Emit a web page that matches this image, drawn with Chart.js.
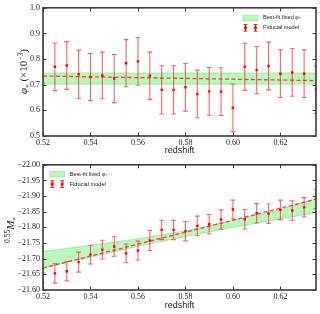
<!DOCTYPE html>
<html>
<head>
<meta charset="utf-8">
<script src="https://cdn.jsdelivr.net/npm/chart.js@4.4.1/dist/chart.umd.min.js"></script>
<style>
  html, body { margin: 0; padding: 0; background: #fff; }
  body { width: 320px; height: 314px; position: relative; overflow: hidden; }
  canvas { position: absolute; left: 0; }
  #phiChart { top: 0; }
  #magChart { top: 157px; }
</style>
</head>
<body>
<canvas id="phiChart" width="320" height="157"></canvas>
<canvas id="magChart" width="320" height="157"></canvas>
<script>
// Data
const redshift = [0.520, 0.525, 0.530, 0.535, 0.540, 0.545, 0.550, 0.555, 0.560, 0.565, 0.570, 0.575,
                  0.580, 0.585, 0.590, 0.595, 0.600, 0.605, 0.610, 0.615, 0.620, 0.625, 0.630, 0.635];

// top panel: phi* (x 10^-3)
const phiStar = [0.800, 0.770, 0.775, 0.741, 0.730, 0.736, 0.724, 0.784, 0.791, 0.735, 0.680, 0.680,
                 0.690, 0.664, 0.674, 0.673, 0.610, 0.770, 0.757, 0.773, 0.743, 0.748, 0.743, 0.681];
const phiStarErr = [0.093, 0.093, 0.093, 0.094, 0.092, 0.091, 0.094, 0.092, 0.093, 0.092, 0.094, 0.094,
                    0.093, 0.093, 0.093, 0.093, 0.093, 0.092, 0.092, 0.093, 0.093, 0.093, 0.093, 0.093];
const phiBandX = [0.520, 0.635];
const phiBandHigh = [0.746, 0.746];
const phiBandLow = [0.702, 0.702];
const phiFidX = [0.520, 0.635];
const phiFid = [0.734, 0.716];

// bottom panel: 0.55 M*
const magStar = [-21.624, -21.653, -21.660, -21.689, -21.713, -21.729, -21.739, -21.717, -21.726, -21.758, -21.792, -21.792,
                 -21.788, -21.805, -21.810, -21.825, -21.857, -21.826, -21.845, -21.844, -21.856, -21.854, -21.864, -21.891];
const magStarErr = [0.031, 0.031, 0.031, 0.032, 0.030, 0.030, 0.031, 0.030, 0.030, 0.032, 0.031, 0.031,
                    0.031, 0.031, 0.031, 0.031, 0.030, 0.031, 0.031, 0.031, 0.031, 0.031, 0.031, 0.031];
const magBandX = [0.520, 0.540, 0.560, 0.580, 0.600, 0.620, 0.635];
const magBandBright = [-21.723, -21.743, -21.764, -21.789, -21.822, -21.857, -21.893];
const magBandFaint = [-21.671, -21.705, -21.739, -21.771, -21.800, -21.827, -21.847];
const magFidX = [0.520, 0.635];
const magFid = [-21.670, -21.890];

// ticks
const xTicks = [0.52, 0.54, 0.56, 0.58, 0.60, 0.62];
const phiTicks = [0.5, 0.6, 0.7, 0.8, 0.9, 1.0];
const magTicks = [-22.00, -21.95, -21.90, -21.85, -21.80, -21.75, -21.70, -21.65, -21.60];

const SERIF = '"Liberation Serif", "DejaVu Serif", serif';
const SANS = '"Liberation Sans", Arial, sans-serif';
const RED = '#ff0000';
const ERR_RED = 'rgba(255, 25, 25, 0.68)';
const BAND_FILL = 'rgba(110, 232, 110, 0.45)';
const BAND_EDGE = 'rgba(60, 200, 60, 0.45)';

const toPoints = (xs, ys) => xs.map((x, i) => ({ x: x, y: ys[i] }));

// draw a run of text pieces (with sub/superscripts) starting at x
function drawRich(ctx, parts, x, y, align) {
    let total = 0;
    parts.forEach(p => {
        ctx.font = (p.italic ? 'italic ' : '') + p.size + 'px ' + (p.family || SERIF);
        p.w = ctx.measureText(p.t).width;
        total += p.w;
    });
    let cx = align === 'center' ? x - total / 2 : x;
    parts.forEach(p => {
        ctx.font = (p.italic ? 'italic ' : '') + p.size + 'px ' + (p.family || SERIF);
        ctx.fillText(p.t, cx, y + (p.dy || 0));
        cx += p.w;
    });
}

// error bars, drawn under the markers of any dataset that has an errors array
const errorBars = {
    id: 'errorBars',
    beforeDatasetDraw(chart, args) {
        const ds = chart.data.datasets[args.index];
        if (!ds.errors) return;
        const { ctx, chartArea: a, scales: { x, y } } = chart;
        ctx.save();
        ctx.beginPath();
        ctx.rect(a.left, a.top, a.width, a.height);
        ctx.clip();
        ctx.strokeStyle = ERR_RED;
        ctx.lineWidth = 1.1;
        ds.data.forEach((p, i) => {
            const px = x.getPixelForValue(p.x);
            const y0 = y.getPixelForValue(p.y - ds.errors[i]);
            const y1 = y.getPixelForValue(p.y + ds.errors[i]);
            ctx.beginPath();
            ctx.moveTo(px, y0); ctx.lineTo(px, y1);
            ctx.moveTo(px - 2.3, y0); ctx.lineTo(px + 2.3, y0);
            ctx.moveTo(px - 2.3, y1); ctx.lineTo(px + 2.3, y1);
            ctx.stroke();
        });
        ctx.restore();
    }
};

// frame with inward ticks on all four sides, axis label and legend
const framePlugin = {
    id: 'frame',
    afterDraw(chart, args, opts) {
        const { ctx, chartArea: a, scales: { x, y } } = chart;
        ctx.save();
        ctx.strokeStyle = '#333';
        ctx.lineWidth = 1;
        ctx.beginPath();
        x.ticks.forEach(t => {
            const px = Math.round(x.getPixelForValue(t.value)) + 0.5;
            ctx.moveTo(px, a.bottom); ctx.lineTo(px, a.bottom - 3.5);
            ctx.moveTo(px, a.top); ctx.lineTo(px, a.top + 3.5);
        });
        y.ticks.forEach(t => {
            const py = Math.round(y.getPixelForValue(t.value)) + 0.5;
            ctx.moveTo(a.left, py); ctx.lineTo(a.left + 3.5, py);
            ctx.moveTo(a.right, py); ctx.lineTo(a.right - 3.5, py);
        });
        ctx.stroke();
        ctx.lineWidth = 1.6;
        ctx.strokeStyle = '#3a3a3a';
        ctx.strokeRect(a.left, a.top, a.right - a.left, a.bottom - a.top);

        // y axis label (rotated)
        ctx.fillStyle = '#222';
        ctx.textBaseline = 'alphabetic';
        ctx.save();
        ctx.translate(opts.labelX, opts.labelY);
        ctx.rotate(-Math.PI / 2);
        drawRich(ctx, opts.label, 0, 4, 'center');
        ctx.restore();

        // legend
        const lx = opts.legendRight ? a.right - opts.legendDx : a.left + opts.legendDx;
        const ly = a.top + opts.legendDy;
        ctx.fillStyle = BAND_FILL;
        ctx.fillRect(lx, ly - 2.6, 15, 5.4);
        ctx.strokeStyle = BAND_EDGE;
        ctx.lineWidth = 0.6;
        ctx.strokeRect(lx, ly - 2.6, 15, 5.4);
        const ry = ly + 10;
        [lx + 2.5, lx + 12.5].forEach(mx => {
            ctx.strokeStyle = RED;
            ctx.lineWidth = 1;
            ctx.beginPath();
            ctx.moveTo(mx, ry - 3.3); ctx.lineTo(mx, ry + 3.3);
            ctx.moveTo(mx - 1.8, ry - 3.3); ctx.lineTo(mx + 1.8, ry - 3.3);
            ctx.moveTo(mx - 1.8, ry + 3.3); ctx.lineTo(mx + 1.8, ry + 3.3);
            ctx.stroke();
            ctx.fillStyle = RED;
            ctx.fillRect(mx - 1.4, ry - 1.4, 2.8, 2.8);
        });
        ctx.fillStyle = '#222';
        ctx.textBaseline = 'middle';
        drawRich(ctx, [
            { t: 'Best-fit fixed ', size: 5.6, family: SANS },
            { t: 'φ', size: 5.8, italic: true },
            { t: '*', size: 4.5, dy: 1.5 }
        ], lx + 20, ly, 'left');
        drawRich(ctx, [{ t: 'Fiducial model', size: 5.6, family: SANS }], lx + 20, ry, 'left');
        ctx.restore();
    }
};

function makePanel(id, o) {
    const ctx = document.getElementById(id).getContext('2d');
    return new Chart(ctx, {
        type: 'line',
        data: {
            datasets: [
                {
                    data: toPoints(o.bandX, o.bandHigh),
                    borderColor: BAND_EDGE, borderWidth: 0.7, pointRadius: 0, fill: false, order: 3
                },
                {
                    data: toPoints(o.bandX, o.bandLow),
                    borderColor: BAND_EDGE, borderWidth: 0.7, pointRadius: 0,
                    fill: '-1', backgroundColor: BAND_FILL, order: 3
                },
                {
                    data: toPoints(o.fidX, o.fid),
                    borderColor: 'rgba(225, 45, 45, 0.85)', borderWidth: 1.3, borderDash: [4, 2.5],
                    pointRadius: 0, fill: false, order: 2
                },
                {
                    data: toPoints(redshift, o.values),
                    errors: o.errors,
                    showLine: false, pointStyle: 'rect', pointRadius: 1.7,
                    pointBackgroundColor: RED, pointBorderColor: RED, pointBorderWidth: 0,
                    clip: 0, order: 1
                }
            ]
        },
        options: {
            responsive: false,
            animation: false,
            events: [],
            layout: { padding: { top: o.padTop, right: 4, left: 0, bottom: 0 } },
            plugins: {
                legend: { display: false },
                tooltip: { enabled: false },
                frame: o.frame
            },
            scales: {
                x: {
                    type: 'linear',
                    min: 0.52, max: 0.635,
                    grid: { display: false, drawTicks: false },
                    border: { display: false },
                    afterBuildTicks: s => { s.ticks = xTicks.map(v => ({ value: v })); },
                    afterFit: s => { s.height = o.xHeight; },
                    ticks: {
                        autoSkip: false, maxRotation: 0, padding: 2, color: '#222',
                        font: { family: SERIF, size: 8 },
                        callback: v => v.toFixed(2)
                    },
                    title: {
                        display: true, text: 'redshift', color: '#222',
                        font: { family: SANS, size: 9 },
                        padding: { top: 0, bottom: o.titlePad }
                    }
                },
                y: {
                    type: 'linear',
                    min: o.yMin, max: o.yMax, reverse: o.reverse,
                    grid: { display: false, drawTicks: false },
                    border: { display: false },
                    afterBuildTicks: s => { s.ticks = o.yTicks.map(v => ({ value: v })); },
                    afterFit: s => { s.width = 43; },
                    ticks: {
                        autoSkip: false, padding: 3, color: '#222',
                        font: { family: SERIF, size: 8 },
                        callback: o.yFormat
                    }
                }
            }
        },
        plugins: [errorBars, framePlugin]
    });
}

makePanel('phiChart', {
    values: phiStar, errors: phiStarErr,
    bandX: phiBandX, bandHigh: phiBandHigh, bandLow: phiBandLow,
    fidX: phiFidX, fid: phiFid,
    yMin: 0.5, yMax: 1.0, reverse: false, yTicks: phiTicks,
    yFormat: v => v.toFixed(1),
    padTop: 7, xHeight: 21, titlePad: 1,
    frame: {
        labelX: 23, labelY: 71.5,
        label: [
            { t: 'φ', size: 11, italic: true },
            { t: '*', size: 7, dy: 3 },
            { t: ' (×10', size: 11 },
            { t: '−3', size: 7.5, dy: -4.5 },
            { t: ')', size: 11 }
        ],
        legendRight: true, legendDx: 73, legendDy: 10
    }
});

makePanel('magChart', {
    values: magStar, errors: magStarErr,
    bandX: magBandX, bandHigh: magBandBright, bandLow: magBandFaint,
    fidX: magFidX, fid: magFid,
    yMin: -22.0, yMax: -21.6, reverse: true, yTicks: magTicks,
    yFormat: v => (v < 0 ? '−' : '') + Math.abs(v).toFixed(2),
    padTop: 4, xHeight: 24, titlePad: 3,
    frame: {
        labelX: 10, labelY: 73,
        label: [
            { t: '0.55', size: 7.5, dy: -4 },
            { t: 'M', size: 11, italic: true },
            { t: '*', size: 7, dy: 3 }
        ],
        legendRight: false, legendDx: 6.7, legendDy: 9.3
    }
});
</script>
</body>
</html>
